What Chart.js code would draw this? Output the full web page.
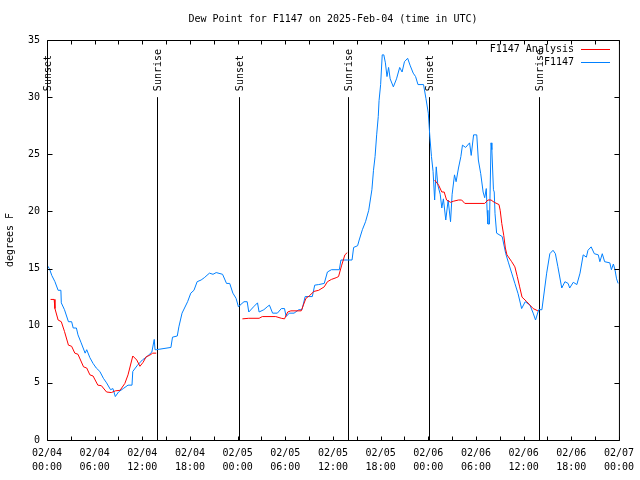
<!DOCTYPE html>
<html lang="en">
<head>
    <meta charset="UTF-8">
    <title>Dew Point for F1147</title>
    <script src="https://cdn.jsdelivr.net/npm/chart.js"></script>
    <style>
        body { margin: 0; background: #fff; }
        canvas { display: block; }
    </style>
</head>
<body>
    <canvas id="dewChart" width="640" height="480"></canvas>

    <script>
        // hours since 2025-02-04 00:00 UTC
        const obsHours = [0, 0.3, 0.6, 1.0, 1.4, 1.75, 1.8, 2.2, 2.7, 3.1, 3.3, 3.7, 3.9, 4.3, 4.8, 5.0, 5.4, 5.8, 6.2, 6.65,
            7.1, 7.5, 8.0, 8.3, 8.6, 9.0, 9.6, 10.2, 10.7, 10.8, 11.4, 12.0, 12.6, 13.2, 13.5, 13.6, 13.75, 15.6, 15.8, 16.4,
            16.6, 17.0, 17.7, 18.1, 18.5, 18.9, 19.4, 19.8, 20.45, 20.9, 21.3, 22.1, 22.6, 23.0, 23.4, 23.8, 24.1, 24.3, 24.8, 25.2,
            25.4, 26.0, 26.5, 26.7, 27.3, 27.8, 28.0, 28.4, 29.0, 29.5, 29.9, 30.1, 30.5, 31.1, 31.7, 32.1, 32.5, 33.4, 33.7, 34.2,
            34.9, 35.3, 35.8, 36.8, 37.0, 37.8, 38.4, 38.6, 39.1, 39.3, 39.7, 40.1, 40.5, 40.7, 40.9, 41.1, 41.3, 41.5, 41.7, 41.8,
            42.0, 42.2, 42.4, 42.6, 42.8, 43.0, 43.2, 43.6, 44.0, 44.4, 44.7, 45.0, 45.4, 45.7, 46.1, 46.4, 46.7, 47.4, 47.7, 48.0,
            48.2, 48.4, 48.6, 48.8, 49.0, 49.2, 49.5, 49.7, 49.9, 50.2, 50.5, 50.8, 51.0, 51.3, 51.5, 51.8, 52.1, 52.3, 52.7, 53.2,
            53.4, 53.7, 54.1, 54.3, 54.6, 54.9, 55.1, 55.3, 55.4, 55.5, 55.7, 55.9, 56.0, 56.2, 56.3, 56.4, 56.6, 57.3, 57.75, 58.1,
            58.5, 58.9, 59.3, 59.75, 60.2, 60.8, 61.2, 61.5, 61.9, 62.3, 62.9, 63.3, 63.7, 64.0, 64.3, 64.8, 65.2, 65.6, 65.8, 66.25,
            66.7, 67.1, 67.5, 67.9, 68.1, 68.5, 68.9, 69.4, 69.6, 69.9, 70.2, 70.85, 71.05, 71.3, 71.5, 71.7, 71.9];
        const obsValues = [15.3, 15.0, 14.4, 13.85, 13.1, 13.1, 12.0, 11.4, 10.35, 10.35, 9.8, 9.8, 9.2, 8.5, 7.6, 7.9, 7.2, 6.7, 6.3, 6.0,
            5.4, 5.0, 4.4, 4.5, 3.8, 4.2, 4.5, 4.8, 4.8, 6.0, 6.55, 7.0, 7.3, 7.7, 8.8, 7.9, 7.9, 8.1, 9.0, 9.1,
            9.9, 11.1, 12.1, 12.85, 13.1, 13.85, 14.0, 14.2, 14.6, 14.5, 14.65, 14.5, 13.7, 13.7, 12.85, 12.4, 11.65, 11.8, 12.1, 12.1,
            11.2, 11.65, 12.0, 11.2, 11.4, 11.7, 11.8, 11.1, 11.1, 11.5, 11.5, 10.8, 11.1, 11.1, 11.4, 11.4, 12.55, 12.55, 13.55, 13.6,
            13.7, 14.7, 14.9, 14.9, 15.75, 15.75, 15.75, 16.85, 17.0, 17.5, 18.4, 19.1, 20.1, 21.0, 21.9, 23.6, 24.8, 26.7, 28.3, 29.7,
            31.1, 33.7, 33.7, 33.0, 31.8, 32.6, 31.6, 30.9, 31.6, 32.6, 32.2, 33.1, 33.4, 32.8, 32.1, 31.8, 31.1, 31.1, 29.9, 28.6,
            26.5, 24.8, 23.5, 21.0, 23.9, 22.3, 21.5, 20.3, 21.1, 19.25, 21.0, 19.1, 21.5, 23.2, 22.6, 23.8, 24.8, 25.8, 25.6, 26.0,
            24.9, 26.7, 26.7, 24.5, 23.3, 21.7, 21.2, 22.0, 20.1, 18.9, 18.9, 26.0, 25.4, 21.9, 21.7, 19.8, 18.1, 17.8, 16.3, 15.5,
            14.6, 13.7, 12.8, 11.5, 12.1, 11.8, 11.1, 10.5, 11.4, 11.4, 14.6, 16.3, 16.6, 16.3, 15.2, 13.3, 13.85, 13.7, 13.3, 13.8,
            13.6, 14.6, 16.2, 16.0, 16.6, 16.9, 16.3, 16.2, 15.6, 16.3, 15.6, 15.5, 14.9, 15.4, 14.9, 14.1, 13.7];

        // analysis series, null = no analysis (gap)
        const anaHours = [0.45, 0.9, 1.0, 1.4, 1.8, 2.2, 2.7, 3.1, 3.5, 3.9, 4.6, 5.0, 5.4, 5.8, 6.4, 6.85, 7.5, 8.1, 8.6, 9.2,
            9.8, 10.2, 10.8, 11.3, 11.7, 12.1, 12.5, 12.9, 13.3, 13.75, 19.0,
            24.6, 25.4, 26.7, 27.1, 28.8, 29.5, 29.9, 30.3, 30.7, 32.0, 32.6, 33.0, 33.6, 34.2, 34.9, 35.3, 35.8, 36.4, 36.7,
            37.1, 37.5, 37.8, 43.0,
            48.8, 49.3, 49.7, 50.0, 50.3, 50.8, 51.2, 51.8, 52.2, 52.6, 55.1, 55.5, 55.9, 56.3, 56.9, 57.05, 57.25, 57.5, 57.7, 57.9,
            58.5, 58.9, 59.2, 59.5, 59.8, 60.4, 60.8, 61.2, 61.8];
        const anaValues = [12.3, 12.3, 11.5, 10.5, 10.35, 9.5, 8.3, 8.2, 7.6, 7.5, 6.4, 6.3, 5.7, 5.6, 4.8, 4.75, 4.2, 4.15, 4.3, 4.35,
            4.95, 5.7, 7.35, 7.0, 6.45, 6.8, 7.3, 7.4, 7.6, 7.6, null,
            10.6, 10.65, 10.65, 10.8, 10.8, 10.65, 10.6, 11.2, 11.3, 11.3, 12.4, 12.6, 13.0, 13.1, 13.4, 13.85, 14.05, 14.2, 14.3,
            15.3, 16.2, 16.4, null,
            22.75, 22.3, 21.7, 21.7, 21.0, 20.8, 20.9, 21.0, 21.0, 20.7, 20.7, 21.0, 21.0, 20.8, 20.6, 20.1, 18.95, 17.9, 16.8, 16.2,
            15.6, 15.15, 14.3, 13.4, 12.5, 12.1, 11.8, 11.5, 11.3];

        const sunHours = [0, 13.84, 24.13, 37.93, 48.1, 61.9];
        const sunLabels = ['Sunset', 'Sunrise', 'Sunset', 'Sunrise', 'Sunset', 'Sunrise'];
        const sunLineTop = 30;

        const xTickDates = ['02/04', '02/04', '02/04', '02/04', '02/05', '02/05', '02/05', '02/05', '02/06', '02/06', '02/06', '02/06', '02/07'];
        const xTickTimes = ['00:00', '06:00', '12:00', '18:00', '00:00', '06:00', '12:00', '18:00', '00:00', '06:00', '12:00', '18:00', '00:00'];
        const xMinorHours = [3, 9, 15, 21, 27, 33, 39, 45, 51, 57, 63, 69];

        const FONT = '"DejaVu Sans Mono", "Liberation Mono", monospace';

        const gnuplotDecor = {
            id: 'gnuplotDecor',
            beforeDatasetsDraw(chart) {
                const { ctx, scales: { x, y } } = chart;
                ctx.save();
                ctx.strokeStyle = '#000';
                ctx.lineWidth = 1;
                ctx.fillStyle = '#000';
                ctx.font = '10px ' + FONT;
                sunHours.forEach((h, i) => {
                    const px = Math.round(x.getPixelForValue(h)) + 0.5;
                    ctx.beginPath();
                    ctx.moveTo(px, y.getPixelForValue(0));
                    ctx.lineTo(px, y.getPixelForValue(sunLineTop));
                    ctx.stroke();
                    ctx.save();
                    ctx.translate(px, y.getPixelForValue(sunLineTop) - 6);
                    ctx.rotate(-Math.PI / 2);
                    ctx.textAlign = 'left';
                    ctx.textBaseline = 'middle';
                    ctx.fillText(sunLabels[i], 0, 1);
                    ctx.restore();
                });
                ctx.restore();
            },
            afterDatasetsDraw(chart) {
                const { ctx, chartArea: a, scales: { x, y } } = chart;
                ctx.save();
                ctx.strokeStyle = '#000';
                ctx.lineWidth = 1;
                const L = a.left + 0.5, R = a.right + 0.5, T = a.top + 0.5, B = a.bottom + 0.5;
                ctx.beginPath();
                ctx.rect(L, T, R - L, B - T);
                // x ticks, inward, top and bottom
                const xt = xTickDates.map((_, i) => i * 6).concat(xMinorHours);
                xt.forEach(h => {
                    const px = Math.round(x.getPixelForValue(h)) + 0.5;
                    ctx.moveTo(px, B); ctx.lineTo(px, B - 4);
                    ctx.moveTo(px, T); ctx.lineTo(px, T + 4);
                });
                for (let v = 0; v <= 35; v += 5) {
                    const py = Math.round(y.getPixelForValue(v)) + 0.5;
                    ctx.moveTo(L, py); ctx.lineTo(L + 5, py);
                    ctx.moveTo(R, py); ctx.lineTo(R - 5, py);
                }
                ctx.stroke();
                ctx.restore();
            },
            afterDraw(chart) {
                const { ctx, chartArea: a } = chart;
                ctx.save();
                ctx.fillStyle = '#000';
                ctx.font = '10px ' + FONT;
                ctx.textBaseline = 'middle';
                ctx.textAlign = 'center';
                ctx.fillText('Dew Point for F1147 on 2025-Feb-04 (time in UTC)', (a.left + a.right) / 2, 19);

                ctx.save();
                ctx.translate(10, (a.top + a.bottom) / 2);
                ctx.rotate(-Math.PI / 2);
                ctx.fillText('degrees F', 0, 0);
                ctx.restore();

                // legend
                ctx.textAlign = 'right';
                chart.data.datasets.forEach((ds, i) => {
                    const ly = 49.5 + i * 13;
                    ctx.fillStyle = '#000';
                    ctx.fillText(ds.label, 574, ly);
                    ctx.strokeStyle = ds.borderColor;
                    ctx.lineWidth = 1;
                    ctx.beginPath();
                    ctx.moveTo(581, Math.round(ly) - 0.5);
                    ctx.lineTo(610, Math.round(ly) - 0.5);
                    ctx.stroke();
                });
                ctx.restore();
            }
        };

        const ctx = document.getElementById('dewChart').getContext('2d');
        new Chart(ctx, {
            type: 'line',
            data: {
                datasets: [
                    {
                        label: 'F1147 Analysis',
                        data: anaHours.map((h, i) => ({ x: h, y: anaValues[i] })),
                        borderColor: '#ff0000',
                        borderWidth: 1,
                        pointRadius: 0,
                        tension: 0,
                        spanGaps: false
                    },
                    {
                        label: 'F1147',
                        data: obsHours.map((h, i) => ({ x: h, y: obsValues[i] })),
                        borderColor: '#0080ff',
                        borderWidth: 1,
                        pointRadius: 0,
                        tension: 0
                    }
                ]
            },
            options: {
                responsive: false,
                animation: false,
                layout: { padding: { left: 0, right: 19, top: 40, bottom: 0 } },
                plugins: {
                    legend: { display: false },
                    title: { display: false },
                    tooltip: { enabled: false }
                },
                scales: {
                    x: {
                        type: 'linear',
                        min: 0,
                        max: 72,
                        afterFit(s) { s.height = 40; },
                        grid: { display: false, drawTicks: false },
                        border: { display: false },
                        ticks: {
                            stepSize: 6,
                            autoSkip: false,
                            maxRotation: 0,
                            padding: 6,
                            color: '#000',
                            font: { family: FONT, size: 10, lineHeight: 1.4 },
                            callback: v => [xTickDates[v / 6], xTickTimes[v / 6]]
                        }
                    },
                    y: {
                        min: 0,
                        max: 35,
                        afterFit(s) { s.width = 47; },
                        grid: { display: false, drawTicks: false },
                        border: { display: false },
                        ticks: {
                            stepSize: 5,
                            padding: 7,
                            color: '#000',
                            font: { family: FONT, size: 10 }
                        }
                    }
                }
            },
            plugins: [gnuplotDecor]
        });
    </script>
</body>
</html>
